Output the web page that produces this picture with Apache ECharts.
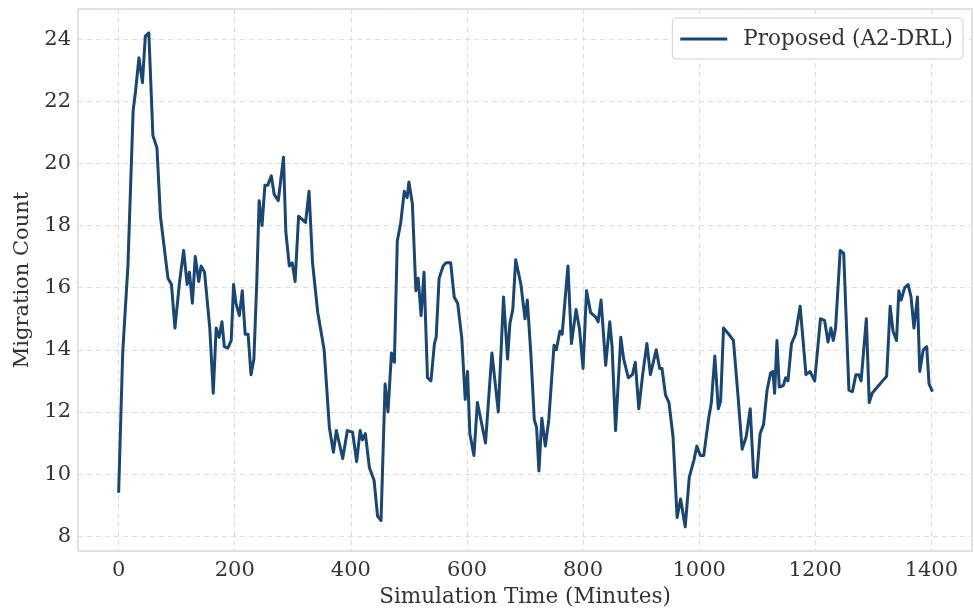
<!DOCTYPE html>
<html><head><meta charset="utf-8">
<script src="https://cdn.jsdelivr.net/npm/echarts@6/dist/echarts.min.js"></script>
<style>html,body{margin:0;padding:0;background:#fff}#c{width:974px;height:613px}</style>
</head><body><div id="c"></div>
<script>
const seriesName = 'Proposed (A2-DRL)';
const times = [0,7,16,25,29,35,41,46,52,59,66,72,85,91,97,105,112,118,122,127,132,138,142,148,157,163,168,173,178,182,188,194,198,202,208,213,218,223,228,233,238,242,247,252,257,263,268,275,284,288,294,299,304,310,316,322,328,334,343,354,363,370,375,380,386,394,403,410,416,420,425,432,440,446,452,459,464,470,475,480,486,492,497,500,506,512,516,521,526,532,538,544,547,552,559,564,572,578,584,591,597,601,605,612,618,624,632,643,654,663,670,674,679,684,693,700,704,710,716,720,724,729,735,741,750,754,760,764,774,780,788,794,800,806,813,822,826,831,839,846,850,856,865,870,878,885,890,896,903,910,916,926,932,936,942,948,955,962,968,976,983,991,996,1002,1008,1016,1021,1027,1033,1037,1042,1051,1059,1067,1074,1081,1088,1094,1099,1105,1111,1117,1123,1127,1130,1134,1138,1145,1149,1153,1159,1166,1174,1184,1191,1199,1209,1216,1222,1227,1231,1235,1243,1249,1258,1264,1270,1275,1279,1288,1293,1298,1307,1316,1323,1329,1334,1340,1344,1348,1354,1360,1365,1370,1376,1380,1386,1392,1396,1402];
const values = [9.4,13.9,16.7,21.7,22.3,23.4,22.6,24.1,24.2,20.9,20.5,18.3,16.3,16.1,14.7,16.2,17.2,16.1,16.5,15.5,17.0,16.2,16.7,16.5,14.7,12.6,14.7,14.4,14.9,14.1,14.05,14.3,16.1,15.5,15.1,15.9,14.5,14.5,13.2,13.7,16.2,18.8,18.0,19.3,19.3,19.6,19.0,18.8,20.2,17.8,16.7,16.8,16.2,18.3,18.2,18.1,19.1,16.8,15.2,14.0,11.5,10.7,11.4,11.0,10.5,11.4,11.35,10.4,11.4,11.1,11.3,10.2,9.8,8.65,8.5,12.9,12.0,13.9,13.6,17.5,18.1,19.1,18.9,19.4,18.7,15.9,16.3,15.1,16.5,13.1,13.0,14.2,14.4,16.3,16.7,16.8,16.8,15.7,15.5,14.4,12.4,13.3,11.3,10.6,12.3,11.75,11.0,13.9,12.0,15.7,13.7,14.85,15.3,16.9,16.1,15.0,15.6,13.9,11.75,11.5,10.1,11.8,10.9,11.75,14.15,14.0,14.6,14.5,16.7,14.2,15.3,14.65,13.4,15.9,15.2,15.05,14.9,15.6,13.5,14.9,14.1,11.4,14.4,13.7,13.1,13.2,13.6,12.1,13.25,14.2,13.2,14.0,13.4,13.4,12.55,12.3,11.2,8.6,9.2,8.3,9.9,10.45,10.9,10.6,10.6,11.75,12.3,13.8,12.1,12.35,14.7,14.5,14.3,12.5,10.8,11.2,12.1,9.9,9.9,11.3,11.6,12.7,13.25,13.3,12.6,14.3,12.8,12.85,13.1,13.0,14.2,14.5,15.4,13.2,13.3,13.0,15.0,14.95,14.25,14.7,14.3,14.7,17.2,17.1,12.7,12.65,13.2,13.2,13.0,15.0,12.3,12.6,12.8,13.0,13.15,15.4,14.6,14.3,15.9,15.6,16.0,16.1,15.7,14.7,15.7,13.3,14.0,14.1,12.9,12.65];
const xTitle = 'Simulation Time (Minutes)';
const yTitle = 'Migration Count';

const font = 'DejaVu Serif';
const txt = '#333333';
const chart = echarts.init(document.getElementById('c'), null, {renderer: 'canvas'});
chart.setOption({
  animation: false,
  backgroundColor: '#ffffff',
  grid: {left: 78, right: 2, top: 9, bottom: 57, show: true, borderColor: '#d9d9d9', borderWidth: 1.5, containLabel: false},
  legend: {
    show: true, right: 11, top: 18, orient: 'horizontal',
    backgroundColor: '#ffffff', borderColor: '#d0d0d0', borderWidth: 1, borderRadius: 4,
    padding: [10, 10, 9, 8], itemWidth: 47, itemHeight: 3, itemGap: 10,
    textStyle: {fontFamily: font, fontSize: 21.5, color: txt, padding: [0, 0, 0, 11]},
    icon: 'rect',
    data: [{name: seriesName, icon: 'rect'}]
  },
  xAxis: {
    type: 'value', min: -70, max: 1470, splitNumber: 8,
    name: xTitle, nameLocation: 'middle', nameGap: 34,
    nameTextStyle: {fontFamily: font, fontSize: 21.5, color: txt},
    axisLine: {show: false}, axisTick: {show: false},
    axisLabel: {fontFamily: font, fontSize: 21, color: txt, margin: 9, showMinLabel: false, showMaxLabel: false,
      formatter: v => (v % 200 === 0 ? String(v) : '')},
    splitLine: {show: true, lineStyle: {color: '#dddddd', type: [5, 4], width: 1}}
  },
  yAxis: {
    type: 'value', min: 7.52, max: 24.97, splitNumber: 8,
    name: yTitle, nameLocation: 'middle', nameGap: 43, nameRotate: 90,
    nameTextStyle: {fontFamily: font, fontSize: 21, color: txt},
    axisLine: {show: false}, axisTick: {show: false},
    axisLabel: {fontFamily: font, fontSize: 21, color: txt, margin: 7, showMinLabel: false, showMaxLabel: false,
      formatter: v => (Math.abs(v - Math.round(v)) < 1e-6 && Math.round(v) % 2 === 0 ? String(Math.round(v)) : '')},
    splitLine: {show: true, lineStyle: {color: '#dddddd', type: [5, 4], width: 1}}
  },
  series: [{
    name: seriesName, type: 'line', showSymbol: false, symbol: 'none',
    data: times.map((t, i) => [t, values[i]]),
    lineStyle: {color: '#1a4673', width: 3, join: 'round'},
    itemStyle: {color: '#1a4673'}
  }]
});
</script></body></html>
